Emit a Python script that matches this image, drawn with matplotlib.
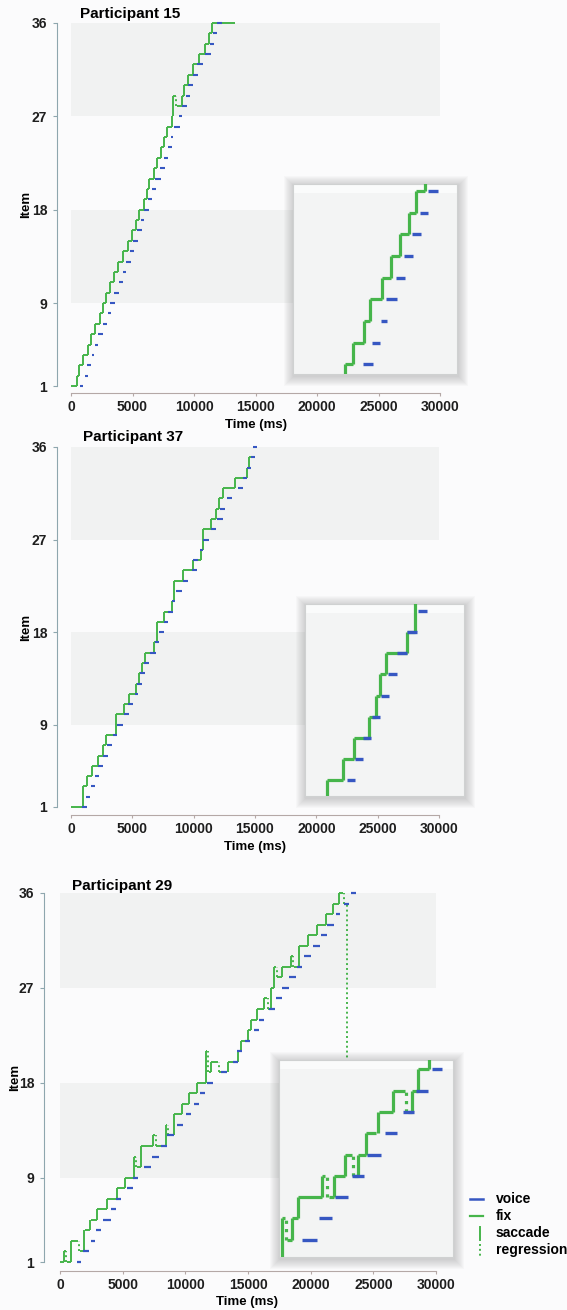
import matplotlib
matplotlib.use('Agg')
import matplotlib.pyplot as plt
from matplotlib.patches import Rectangle
from matplotlib.lines import Line2D

plt.rcParams['font.family'] = ['Liberation Sans', 'DejaVu Sans']

GREEN = '#46b54b'
BLUE = '#3657c2'
BAND = '#f1f2f2'
BG = '#fbfbfc'

x_ticks = [0, 5000, 10000, 15000, 20000, 25000, 30000]
item_ticks = [1, 9, 18, 27, 36]
bands = [(9, 18), (27, 36)]

# ---- Participant 15 (ms) ----
p15_fix_item = list(range(1, 28)) + [29, 28, 29, 30, 31, 32, 33, 34, 35, 36]
p15_fix_start = [0, 461, 650, 949, 1409, 1599, 1951, 2358, 2575, 2846, 3171, 3523, 3848, 4255,
                 4607, 4932, 5285, 5556, 5935, 6152, 6369, 6748, 6965, 7290, 7561, 7778, 8184,
                 8320, 8591, 8997, 9210, 9539, 9892, 10434, 10894, 11247, 11436]
p15_fix_end = [461, 650, 949, 1409, 1599, 1951, 2358, 2575, 2846, 3171, 3523, 3848, 4255, 4607,
               4932, 5285, 5556, 5935, 6152, 6369, 6748, 6965, 7290, 7561, 7778, 8184, 8320,
               8510, 8997, 9210, 9539, 9892, 10434, 10894, 11247, 11436, 13333]
p15_voice_item = list(range(1, 37))
p15_voice_start = [732, 1138, 1328, 1680, 1951, 2222, 2575, 3035, 3171, 3523, 3902, 4201, 4445,
                   4797, 5068, 5393, 5691, 5935, 6288, 6558, 6857, 7236, 7588, 7859, 8103, 8374,
                   8808, 8997, 9350, 9539, 9892, 10272, 10894, 11301, 11572, 11897]
p15_voice_end = [949, 1409, 1599, 1897, 2222, 2575, 2954, 3225, 3577, 3902, 4201, 4445, 4851,
                 5122, 5447, 5746, 5935, 6369, 6558, 6884, 7290, 7642, 7913, 8184, 8320, 8862,
                 9024, 9404, 9675, 9945, 10353, 10705, 11355, 11626, 11897, 12303]

# ---- Participant 37 (ms) ----
p37_fix_item = [1, 3, 4, 5, 6, 7, 8, 10, 11, 12, 13, 14, 15, 16, 17, 19, 20, 21, 23, 24, 25, 26,
                28, 29, 30, 31, 32, 33, 34, 35]
p37_fix_start = [0, 1005, 1331, 1685, 2228, 2581, 2853, 3668, 4320, 4755, 5298, 5570, 5760, 6032,
                 6765, 7037, 7580, 8205, 8396, 9102, 9971, 10569, 10786, 11384, 11819, 12091,
                 12362, 13368, 14318, 14536]
p37_fix_end = [1005, 1331, 1685, 2228, 2581, 2853, 3668, 4320, 4755, 5298, 5570, 5760, 6032,
               6765, 7037, 7580, 8205, 8396, 9102, 9971, 10569, 10786, 11384, 11819, 12091,
               12362, 13368, 14318, 14536, 15004]
p37_voice_item = list(range(1, 37))
p37_voice_start = [868, 1223, 1603, 1956, 2228, 2635, 2907, 3451, 3722, 4320, 4673, 5217, 5353,
                   5624, 5950, 6439, 6847, 7200, 7580, 7934, 8205, 8559, 9102, 9836, 9971, 10515,
                   10786, 11384, 11873, 12145, 12688, 13639, 13992, 14318, 14645, 14862]
p37_voice_end = [1331, 1549, 1983, 2309, 2635, 3043, 3315, 3722, 4211, 4755, 5081, 5488, 5760,
                 6032, 6385, 6928, 7200, 7580, 7934, 8341, 8477, 9021, 9564, 10243, 10379, 10786,
                 11275, 11819, 12362, 12552, 13096, 13992, 14373, 14645, 15000, 15188]

# ---- Participant 29 (ms) ----
p29_fix_item = [1, 2, 1, 3, 2, 4, 5, 6, 7, 8, 9, 11, 10, 12, 13, 12, 14, 13, 15, 16, 17, 18, 21,
                19, 20, 19, 20, 21, 22, 23, 24, 25, 26, 25, 27, 29, 28, 29, 30, 29, 31, 32, 33,
                34, 35, 36, 35, 19]
p29_fix_start = [0, 319, 532, 851, 1569, 1968, 2447, 2926, 3724, 4575, 5160, 5905, 6118, 6437,
                 7448, 7661, 8432, 8672, 9097, 9762, 10294, 10906, 11677, 11864, 12076, 12715,
                 13433, 14204, 14417, 15002, 15215, 15747, 16279, 16625, 16864, 17077, 17343,
                 17742, 18407, 18673, 19072, 19790, 20535, 21253, 21812, 22264, 22663, 22929]
p29_fix_end = [319, 452, 851, 1463, 1915, 2394, 2926, 3724, 4575, 5160, 5905, 6038, 6437, 7448,
               7581, 8432, 8565, 9097, 9762, 10294, 10906, 11677, 11757, 12076, 12608, 13353,
               14204, 14417, 15002, 15215, 15747, 16279, 16545, 16864, 17077, 17237, 17742,
               18407, 18567, 19072, 19790, 20535, 21253, 21812, 22264, 22610, 22823, 23195]
p29_voice_item = list(range(1, 37))
p29_voice_start = [1330, 1862, 2447, 2846, 3431, 4043, 4442, 5320, 5852, 6703, 7368, 8033, 8565,
                   9363, 10028, 10693, 11172, 11757, 12821, 13832, 14151, 14736, 15481, 15880,
                   16678, 17210, 17742, 18274, 18886, 19471, 20189, 20801, 21333, 21998, 22663,
                   23195]
p29_voice_end = [1649, 2314, 2766, 3245, 4043, 4442, 4894, 5852, 6251, 7235, 7900, 8512, 9097,
                 9842, 10480, 11092, 11544, 12236, 13353, 14204, 14550, 15162, 15880, 16279,
                 17130, 17742, 18274, 18806, 19338, 20003, 20721, 21280, 21865, 22344, 23062,
                 23594]

# ---- insets (zoomed detail, ms within window) ----
in15_fix_item = [0, 1, 2, 3, 4, 5, 6, 7, 8, 9, 10]
in15_fix_start = [1500, 1902, 2209, 2613, 2822, 3264, 3571, 3926, 4245, 4515, 4822]
in15_fix_end = [1902, 2209, 2613, 2822, 3264, 3571, 3926, 4245, 4515, 4822, 5300]
in15_voice_item = [1, 2, 3, 4, 5, 6, 7, 8, 9]
in15_voice_start = [2552, 2896, 3227, 3411, 3755, 4049, 4368, 4638, 4945]
in15_voice_end = [2920, 3200, 3436, 3804, 4086, 4393, 4699, 4930, 5313]

in37_fix_item = [0, 1, 2, 3, 4, 5, 6, 7, 8, 10]
in37_fix_start = [400, 843, 1447, 1862, 2415, 2680, 2831, 3057, 3837, 4164]
in37_fix_end = [843, 1447, 1862, 2415, 2680, 2831, 3057, 3837, 4164, 4700]
in37_voice_item = [1, 2, 3, 4, 5, 6, 7, 8, 9]
in37_voice_start = [1573, 1887, 2202, 2516, 2856, 3145, 3485, 3862, 4277]
in37_voice_end = [1870, 2185, 2500, 2831, 3170, 3470, 3837, 4214, 4592]

in29_fix_item = [0, 2, 1, 2, 3, 4, 3, 4, 5, 4, 5, 6, 7, 8, 7, 8, 9, 10]
in29_fix_start = [0, 115, 264, 436, 642, 1468, 1732, 1893, 2271, 2581, 2730, 2994, 3452, 3934,
                  4439, 4600, 4794, 5173]
in29_fix_end = [115, 206, 436, 642, 1468, 1583, 1893, 2271, 2500, 2730, 2994, 3361, 3934, 4336,
                4600, 4794, 5173, 5655]
in29_voice_item = [1, 2, 3, 4, 5, 6, 7, 8, 9]
in29_voice_start = [803, 1388, 1927, 2500, 3040, 3670, 4278, 4737, 5288]
in29_voice_end = [1296, 1835, 2386, 2936, 3533, 4083, 4645, 5139, 5632]

W, H = 567, 1310
fig = plt.figure(figsize=(W / 100, H / 100), dpi=100, facecolor=BG)


def box(x0, y0, x1, y1):
    return [x0 / W, 1 - y1 / H, (x1 - x0) / W, (y1 - y0) / H]


def scanpath(ax, f_item, f_start, f_end, v_item, v_start, v_end, lw, vlw, dots, clip):
    ax.hlines(f_item, f_start, f_end, color=GREEN, lw=lw, capstyle='butt', clip_on=clip, zorder=3)
    for i in range(len(f_item) - 1):
        x = (f_end[i] + f_start[i + 1]) / 2
        a, b = f_item[i], f_item[i + 1]
        if b > a:
            ax.vlines(x, a, b, color=GREEN, lw=lw, clip_on=clip, zorder=3)
        else:
            ax.vlines(x, b, a, color=GREEN, lw=lw, linestyles=[dots], clip_on=clip, zorder=3)
    ax.hlines(v_item, v_start, v_end, color=BLUE, lw=vlw, capstyle='butt', clip_on=clip, zorder=4)


def main_axes(rect, left_out, bottom_out):
    ax = fig.add_axes(rect)
    ax.set_facecolor('none')
    ax.set_xlim(0, 30000)
    ax.set_ylim(1, 36)
    for lo, hi in bands:
        ax.axhspan(lo, hi, color=BAND, lw=0, zorder=0)
    for s in ['top', 'right']:
        ax.spines[s].set_visible(False)
    ax.spines['left'].set_position(('outward', left_out * 0.72))
    ax.spines['bottom'].set_position(('outward', bottom_out * 0.72))
    ax.spines['left'].set_bounds(1, 36)
    ax.spines['bottom'].set_bounds(0, 30000)
    ax.spines['left'].set_color('#8ea6ae')
    ax.spines['bottom'].set_color('#b4a8a6')
    ax.set_xticks(x_ticks)
    ax.set_yticks(item_ticks)
    ax.tick_params(axis='y', length=3, width=0.8, color='#8ea6ae', pad=4, labelsize=10,
                   labelcolor='#1e1e1e')
    ax.tick_params(axis='x', length=2.5, width=0.8, color='#b4a8a6', pad=2.5, labelsize=10,
                   labelcolor='#1e1e1e')
    for t in ax.get_xticklabels() + ax.get_yticklabels():
        t.set_fontweight('bold')
    return ax


def inset_axes(x0, y0, x1, y1, ylim):
    # soft drop shadow
    for k in range(1, 11):
        fig.add_artist(Rectangle(((x0 - k + 1) / W, 1 - (y1 + k + 2) / H),
                                 (x1 - x0 + 2 * k) / W, (y1 - y0 + 2 * k) / H,
                                 transform=fig.transFigure, color='#404040', alpha=0.022,
                                 lw=0, zorder=1))
    ax = fig.add_axes(box(x0, y0, x1, y1))
    ax.set_zorder(2)
    ax.set_facecolor('#f3f4f4')
    ax.add_patch(Rectangle((0, 0.955), 1, 0.045, transform=ax.transAxes, color='#fafbfb',
                           lw=0, zorder=1))
    ax.set_xlim(0, 6000)
    ax.set_ylim(*ylim)
    ax.set_xticks([])
    ax.set_yticks([])
    for s in ax.spines.values():
        s.set_color('#cfd1d1')
        s.set_linewidth(0.8)
    return ax


dots_main = (0, (1, 1.5))
dots_in = (0, (1, 1.6))

# panel 1
ax1 = main_axes(box(71, 23, 440, 386), 14, 7)
scanpath(ax1, p15_fix_item, p15_fix_start, p15_fix_end,
         p15_voice_item, p15_voice_start, p15_voice_end, 1.4, 1.5, dots_main, False)
ins1 = inset_axes(293, 184, 457, 374, (0.55, 9.32))
scanpath(ins1, in15_fix_item, in15_fix_start, in15_fix_end,
         in15_voice_item, in15_voice_start, in15_voice_end, 2.3, 2.4, dots_in, True)

# panel 2
ax2 = main_axes(box(71, 447, 439, 807), 14, 8)
scanpath(ax2, p37_fix_item, p37_fix_start, p37_fix_end,
         p37_voice_item, p37_voice_start, p37_voice_end, 1.4, 1.5, dots_main, False)
ins2 = inset_axes(305, 604, 464, 796, (0.24, 9.34))
scanpath(ins2, in37_fix_item, in37_fix_start, in37_fix_end,
         in37_voice_item, in37_voice_start, in37_voice_end, 2.3, 2.4, dots_in, True)

# panel 3
ax3 = main_axes(box(60, 893, 436, 1262), 16, 9)
scanpath(ax3, p29_fix_item, p29_fix_start, p29_fix_end,
         p29_voice_item, p29_voice_start, p29_voice_end, 1.4, 1.6, dots_main, False)
ins3 = inset_axes(279, 1060, 453, 1257, (0.19, 9.44))
scanpath(ins3, in29_fix_item, in29_fix_start, in29_fix_end,
         in29_voice_item, in29_voice_start, in29_voice_end, 2.3, 2.4, dots_in, True)

# titles and axis labels
titles = ['Participant 15', 'Participant 37', 'Participant 29']
title_pos = [(80, 14), (83, 437), (72, 886)]
for t, (x, y) in zip(titles, title_pos):
    fig.text(x / W, 1 - y / H, t, fontsize=11, fontweight='bold', ha='left', va='center')
for x, y in [(256, 425), (255, 847), (247, 1302)]:
    fig.text(x / W, 1 - y / H, 'Time (ms)', fontsize=9.5, fontweight='bold', ha='center',
             va='center')
for x, y in [(26.5, 204), (26.5, 627), (15, 1077)]:
    fig.text(x / W, 1 - y / H, 'Item', fontsize=9.5, fontweight='bold', ha='center',
             va='center', rotation=90)

# legend
leg_labels = ['voice', 'fix', 'saccade', 'regression']
leg_y = [1199, 1216, 1233, 1250]
fig.add_artist(Line2D([470 / W, 483 / W], [1 - 1199 / H] * 2, color=BLUE, lw=1.8))
fig.add_artist(Line2D([470 / W, 483 / W], [1 - 1216 / H] * 2, color=GREEN, lw=1.6))
fig.add_artist(Line2D([480 / W] * 2, [1 - 1227 / H, 1 - 1240 / H], color=GREEN, lw=1.4))
fig.add_artist(Line2D([480 / W] * 2, [1 - 1244 / H, 1 - 1257 / H], color=GREEN, lw=1.4,
                      linestyle=(0, (1, 1.5))))
for lab, y in zip(leg_labels, leg_y):
    fig.text(496 / W, 1 - y / H, lab, fontsize=10, fontweight='bold', ha='left', va='center')

fig.savefig('out.png', dpi=100, facecolor=BG)
